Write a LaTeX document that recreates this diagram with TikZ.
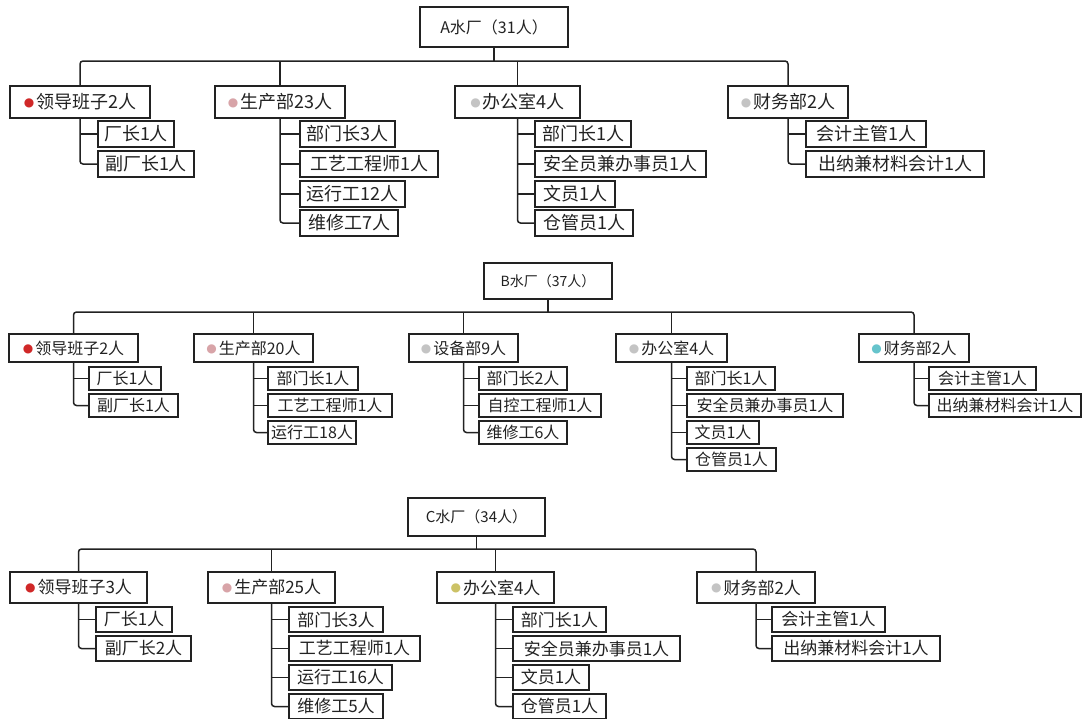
\documentclass[tikz,border=0pt]{standalone}
\usepackage{fontspec}
\setmainfont{Noto Sans CJK SC}
\newfontfamily\iconf{DejaVu Sans}
\definecolor{icred}{HTML}{D02828}
\definecolor{icpink}{HTML}{D8A4A8}
\definecolor{icgray}{HTML}{C4C4C4}
\definecolor{icteal}{HTML}{66C4CC}
\definecolor{icyel}{HTML}{CCC266}
\definecolor{ink}{HTML}{222222}
\newcommand\ic[1]{\raisebox{0.12em}{\iconf\fontsize{12}{12}\selectfont\textcolor{#1}{●}}\hspace{2pt}}
\newcommand\bx[7]{%
  \node[#1, minimum width={(#4-#3)*1pt}, minimum height={#6*1pt}] (#2) at ({(#3+#4)/2},{#5+#6/2}) {#7};}
\tikzset{
  box/.style={draw=ink, line width=1.6pt, inner sep=0pt, fill=white, text=ink},
  rootA/.style={box, font=\fontsize{16}{18}\selectfont},
  lvA/.style={box, font=\fontsize{18}{20}\selectfont},
  chA/.style={box, font=\fontsize{18}{20}\selectfont},
  rootB/.style={box, font=\fontsize{14}{16}\selectfont},
  lvB/.style={box, font=\fontsize{16}{18}\selectfont},
  chB/.style={box, font=\fontsize{16}{18}\selectfont},
  rootC/.style={box, font=\fontsize{15}{17}\selectfont},
  lvC/.style={box, font=\fontsize{17}{19}\selectfont},
  chC/.style={box, font=\fontsize{17}{19}\selectfont},
  conn/.style={draw=ink, line width=1.5pt, rounded corners=3pt},
}
\begin{document}
\begin{tikzpicture}[x=1pt,y=-1pt]
\useasboundingbox (0,0) rectangle (1083,718);
\clip (0,0) rectangle (1083,718);
\fill[white] (0,0) rectangle (1083,718);
% ================= A =================
\coordinate (Ab) at (0,61);
\bx{rootA}{A0}{420}{568}{7}{40}{A水厂（31人）}
\bx{lvA}{A1}{10}{150}{86}{32}{\ic{icred}领导班子2人}
\bx{lvA}{A2}{215}{345}{86}{32}{\ic{icpink}生产部23人}
\bx{lvA}{A3}{455}{580}{86}{32}{\ic{icgray}办公室4人}
\bx{lvA}{A4}{728}{848}{86}{32}{\ic{icgray}财务部2人}
\draw[conn] (A0.south) -- (A0.south |- Ab);
\draw[conn] (A1.north) -- (A1.north |- Ab) -- (A4.north |- Ab) -- (A4.north);
\draw[conn] (A2.north |- Ab) -- (A2.north);
\draw[conn] (A3.north |- Ab) -- (A3.north);
% A1 children
\bx{chA}{A11}{98}{174}{121}{26}{厂长1人}
\bx{chA}{A12}{98}{194}{151}{26}{副厂长1人}
\draw[conn] (A1.south) |- (A12.west);
\draw[conn] (A1.south |- A11.west) -- (A11.west);
% A2 children
\bx{chA}{A21}{300}{395}{121}{26}{部门长3人}
\bx{chA}{A22}{300}{438}{151}{26}{工艺工程师1人}
\bx{chA}{A23}{300}{405}{181}{26}{运行工12人}
\bx{chA}{A24}{300}{398}{210}{26}{维修工7人}
\draw[conn] (A2.south) |- (A24.west);
\draw[conn] (A2.south |- A21.west) -- (A21.west);
\draw[conn] (A2.south |- A22.west) -- (A22.west);
\draw[conn] (A2.south |- A23.west) -- (A23.west);
% A3 children
\bx{chA}{A31}{535}{631}{121}{26}{部门长1人}
\bx{chA}{A32}{535}{706}{151}{26}{安全员兼办事员1人}
\bx{chA}{A33}{535}{615}{181}{26}{文员1人}
\bx{chA}{A34}{535}{633}{210}{26}{仓管员1人}
\draw[conn] (A3.south) |- (A34.west);
\draw[conn] (A3.south |- A31.west) -- (A31.west);
\draw[conn] (A3.south |- A32.west) -- (A32.west);
\draw[conn] (A3.south |- A33.west) -- (A33.west);
% A4 children
\bx{chA}{A41}{806}{926}{121}{26}{会计主管1人}
\bx{chA}{A42}{806}{984}{151}{26}{出纳兼材料会计1人}
\draw[conn] (A4.south) |- (A42.west);
\draw[conn] (A4.south |- A41.west) -- (A41.west);
% ================= B =================
\coordinate (Bb) at (0,312);
\bx{rootB}{B0}{484}{612}{263}{36}{B水厂（37人）}
\bx{lvB}{B1}{9}{138}{334}{28}{\ic{icred}领导班子2人}
\bx{lvB}{B2}{194}{313}{334}{28}{\ic{icpink}生产部20人}
\bx{lvB}{B3}{409}{518}{334}{28}{\ic{icgray}设备部9人}
\bx{lvB}{B4}{616}{727}{334}{28}{\ic{icgray}办公室4人}
\bx{lvB}{B5}{859}{969}{334}{28}{\ic{icteal}财务部2人}
\draw[conn] (B0.south) -- (B0.south |- Bb);
\draw[conn] (B1.north) -- (B1.north |- Bb) -- (B5.north |- Bb) -- (B5.north);
\draw[conn] (B2.north |- Bb) -- (B2.north);
\draw[conn] (B3.north |- Bb) -- (B3.north);
\draw[conn] (B4.north |- Bb) -- (B4.north);
% B1 children
\bx{chB}{B11}{89}{161}{367}{23}{厂长1人}
\bx{chB}{B12}{89}{178}{394}{23}{副厂长1人}
\draw[conn] (B1.south) |- (B12.west);
\draw[conn] (B1.south |- B11.west) -- (B11.west);
% B2 children
\bx{chB}{B21}{268}{358}{367}{23}{部门长1人}
\bx{chB}{B22}{268}{392}{394}{23}{工艺工程师1人}
\bx{chB}{B23}{268}{356}{421}{23}{运行工18人}
\draw[conn] (B2.south) |- (B23.west);
\draw[conn] (B2.south |- B21.west) -- (B21.west);
\draw[conn] (B2.south |- B22.west) -- (B22.west);
% B3 children
\bx{chB}{B31}{479}{567}{367}{23}{部门长2人}
\bx{chB}{B32}{479}{601}{394}{23}{自控工程师1人}
\bx{chB}{B33}{479}{567}{421}{23}{维修工6人}
\draw[conn] (B3.south) |- (B33.west);
\draw[conn] (B3.south |- B31.west) -- (B31.west);
\draw[conn] (B3.south |- B32.west) -- (B32.west);
% B4 children
\bx{chB}{B41}{687}{775}{367}{23}{部门长1人}
\bx{chB}{B42}{687}{843}{394}{23}{安全员兼办事员1人}
\bx{chB}{B43}{687}{759}{421}{23}{文员1人}
\bx{chB}{B44}{687}{776}{448}{23}{仓管员1人}
\draw[conn] (B4.south) |- (B44.west);
\draw[conn] (B4.south |- B41.west) -- (B41.west);
\draw[conn] (B4.south |- B42.west) -- (B42.west);
\draw[conn] (B4.south |- B43.west) -- (B43.west);
% B5 children
\bx{chB}{B51}{929}{1036}{367}{23}{会计主管1人}
\bx{chB}{B52}{929}{1081}{394}{23}{出纳兼材料会计1人}
\draw[conn] (B5.south) |- (B52.west);
\draw[conn] (B5.south |- B51.west) -- (B51.west);
% ================= C =================
\coordinate (Cb) at (0,549);
\bx{rootC}{C0}{408}{545}{498}{38}{C水厂（34人）}
\bx{lvC}{C1}{10}{147}{572}{31}{\ic{icred}领导班子3人}
\bx{lvC}{C2}{208}{335}{572}{31}{\ic{icpink}生产部25人}
\bx{lvC}{C3}{437}{554}{572}{31}{\ic{icyel}办公室4人}
\bx{lvC}{C4}{697}{815}{572}{31}{\ic{icgray}财务部2人}
\draw[conn] (C0.south) -- (C0.south |- Cb);
\draw[conn] (C1.north) -- (C1.north |- Cb) -- (C4.north |- Cb) -- (C4.north);
\draw[conn] (C2.north |- Cb) -- (C2.north);
\draw[conn] (C3.north |- Cb) -- (C3.north);
% C1 children
\bx{chC}{C11}{96}{172}{607}{25}{厂长1人}
\bx{chC}{C12}{96}{191}{636}{25}{副厂长2人}
\draw[conn] (C1.south) |- (C12.west);
\draw[conn] (C1.south |- C11.west) -- (C11.west);
% C2 children
\bx{chC}{C21}{289}{383}{607}{25}{部门长3人}
\bx{chC}{C22}{289}{420}{636}{25}{工艺工程师1人}
\bx{chC}{C23}{289}{392}{665}{25}{运行工16人}
\bx{chC}{C24}{289}{383}{694}{25}{维修工5人}
\draw[conn] (C2.south) |- (C24.west);
\draw[conn] (C2.south |- C21.west) -- (C21.west);
\draw[conn] (C2.south |- C22.west) -- (C22.west);
\draw[conn] (C2.south |- C23.west) -- (C23.west);
% C3 children
\bx{chC}{C31}{513}{606}{607}{25}{部门长1人}
\bx{chC}{C32}{513}{680}{636}{25}{安全员兼办事员1人}
\bx{chC}{C33}{513}{589}{665}{25}{文员1人}
\bx{chC}{C34}{513}{606}{694}{25}{仓管员1人}
\draw[conn] (C3.south) |- (C34.west);
\draw[conn] (C3.south |- C31.west) -- (C31.west);
\draw[conn] (C3.south |- C32.west) -- (C32.west);
\draw[conn] (C3.south |- C33.west) -- (C33.west);
% C4 children
\bx{chC}{C41}{772}{885}{607}{25}{会计主管1人}
\bx{chC}{C42}{772}{940}{636}{25}{出纳兼材料会计1人}
\draw[conn] (C4.south) |- (C42.west);
\draw[conn] (C4.south |- C41.west) -- (C41.west);
\end{tikzpicture}
\end{document}
